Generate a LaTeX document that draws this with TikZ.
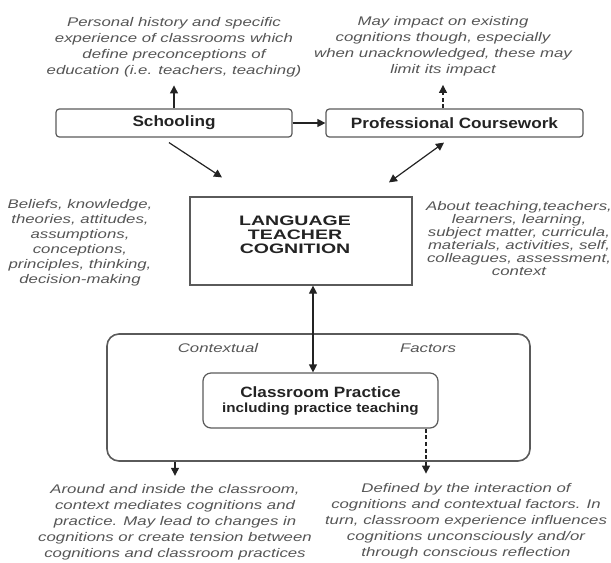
\documentclass[tikz,border=0pt]{standalone}
\usepackage{fontspec}
\usetikzlibrary{arrows.meta,calc}
\newfontfamily\notefont[FakeStretch=1.34]{Liberation Sans}
\newfontfamily\labelfont[FakeStretch=1.15]{Liberation Sans}
\newfontfamily\titlefont[FakeStretch=1.42]{Liberation Sans}
\definecolor{notegray}{RGB}{85,85,85}
\definecolor{boxgray}{RGB}{90,90,90}
\definecolor{inkgray}{RGB}{35,35,35}

\tikzset{every picture/.style={line width=0.9pt}}
\tikzset{
	note/.style={font=\notefont\itshape\fontsize{9.4}{#1}\selectfont, text=notegray, align=center, inner sep=1pt},
	note/.default=12,
	labelbox/.style={draw=boxgray, rounded corners=2.5pt, font=\labelfont\bfseries\fontsize{11.2}{11.25}\selectfont, text=inkgray, inner sep=0pt},
	arr/.style={draw=inkgray, -{Triangle[length=6pt,width=6pt]}},
	twoarr/.style={draw=inkgray, {Triangle[length=6pt,width=6pt]}-{Triangle[length=6pt,width=6pt]}}}

\begin{document}
\begin{tikzpicture}[x=0.75pt,y=0.75pt,yscale=-1,xscale=1]
	\useasboundingbox (0,0) rectangle (611,562);

	%Rounded Rect [contextual factors]
	\node (ctx) at (318.5,397.5) [draw=boxgray, line width=1.2pt, rounded corners=9pt, minimum width=317.25pt, minimum height=95.25pt] {};
	%Rounded Rect [schooling]
	\node (school) at (174,123) [labelbox, minimum width=177pt, minimum height=21pt] {Schooling};
	%Rounded Rect [coursework]
	\node (course) at (454.5,123) [labelbox, minimum width=192.75pt, minimum height=21pt] {Professional Coursework};
	%Shape: Rectangle [cognition]
	\node (ltc) at (301,241) [draw=boxgray, minimum width=166.5pt, minimum height=66pt] {};
	%Rounded Rect [practice]
	\node (practice) at (320.5,400.5) [labelbox, rounded corners=6pt, minimum width=176.25pt, minimum height=41.25pt, align=center] {Classroom Practice\\{\fontsize{9.9}{11.25}\selectfont including practice teaching}};

	% Text Node
	\node (ltctext) at (295,235) [font=\titlefont\bfseries\fontsize{10.3}{10.5}\selectfont, text=inkgray, align=center] {LANGUAGE\\TEACHER\\COGNITION};
	% Text Node
	\node (topleft) at (174,47) [note] {Personal history and specific\\experience of classrooms which\\define preconceptions of\\education (i.e. teachers, teaching)};
	% Text Node
	\node (topright) at (443,46.5) [note] {May impact on existing\\cognitions though, especially\\when unacknowledged, these may\\limit its impact};
	% Text Node
	\node (beliefs) at (80,243) [note=11.25] {Beliefs, knowledge,\\theories, attitudes,\\assumptions,\\conceptions,\\principles, thinking,\\decision-making};
	% Text Node
	\node (about) at (519,238.5) [note=9.75] {About teaching,teachers,\\learners, learning,\\subject matter, curricula,\\materials, activities, self,\\colleagues, assessment,\\context};
	% Text Node
	\node (contextual) at (218,348) [note] {Contextual};
	% Text Node
	\node (factors) at (428,348) [note] {Factors};
	% Text Node
	\node (outleft) at (175,522) [note] {Around and inside the classroom,\\context mediates cognitions and\\practice. May lead to changes in\\cognitions or create tension between\\cognitions and classroom practices};
	% Text Node
	\node (outright) at (466,521) [note] {Defined by the interaction of\\cognitions and contextual factors. In\\turn, classroom experience influences\\cognitions unconsciously and/or\\through conscious reflection};

	\coordinate (leftend) at ($(outleft.north |- ctx.south)+(0,14)$);
	\coordinate (rightstart) at ($(practice.south)+(105.5,0)$);
	\coordinate (rightend) at ($(rightstart)+(0,45)$);

	%Arrows
	\draw [arr, shorten >=5pt] (school.north) -- (topleft.south);
	\draw [arr, densely dashed, shorten >=5pt] (course.north -| topright.south) -- (topright.south);
	\draw [arr] (school.east) -- (course.west);
	\draw [arr] ($(school.south)+(-5,5)$) -- ($(ltc.north)+(-79,-19)$);
	\draw [twoarr] ($(ltc.north)+(88,-14)$) -- ($(course.south)+(-10.5,5)$);
	\draw [twoarr] ($(ltc.south)+(12,0)$) -- ($(practice.north)+(-7.5,0)$);
	\draw [arr] (outleft.north |- ctx.south) -- (leftend);
	\draw [arr, densely dashed] (rightstart) -- (rightend);

\end{tikzpicture}
\end{document}
